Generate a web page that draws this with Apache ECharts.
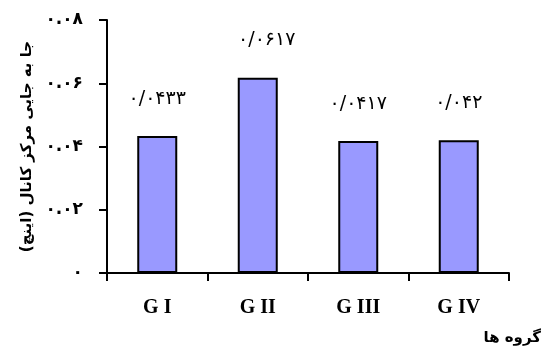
<!DOCTYPE html>
<html><head><meta charset="utf-8">
<script src="https://cdn.jsdelivr.net/npm/echarts@6/dist/echarts.min.js"></script>
<style>html,body{margin:0;padding:0;background:#fff}#c{width:544px;height:351px}</style>
</head><body><div id="c"></div>
<script>
const categories = ['G I', 'G II', 'G III', 'G IV'];
const values = [0.0433, 0.0617, 0.0417, 0.042];
const yTicks = [0, 0.02, 0.04, 0.06, 0.08];
const yTitle = 'جا به جایی مرکز کانال (اینچ)';
const xTitle = 'گروه ها';

const fa = s => String(s).replace(/[0-9]/g, d => '۰۱۲۳۴۵۶۷۸۹'[d]);
const persianFont = '"DejaVu Sans", "Noto Sans", sans-serif';

const chart = echarts.init(document.getElementById('c'));
chart.setOption({
  animation: false,
  grid: { left: 107, right: 35, top: 20, bottom: 78 },
  xAxis: {
    type: 'category', data: categories,
    axisLine: { lineStyle: { color: '#000', width: 2 } },
    axisTick: { show: true, alignWithLabel: false, length: 8, lineStyle: { color: '#000', width: 2 } },
    axisLabel: { color: '#000', fontFamily: '"Liberation Serif", serif', fontWeight: 'bold', fontSize: 20, margin: 25 }
  },
  yAxis: {
    type: 'value', min: yTicks[0], max: yTicks[yTicks.length - 1], interval: 0.02,
    name: yTitle, nameLocation: 'middle', nameRotate: 90, nameGap: 72,
    nameTextStyle: { color: '#000', fontFamily: persianFont, fontWeight: 'bold', fontSize: 15 },
    axisLine: { show: true, lineStyle: { color: '#000', width: 2 } },
    axisTick: { show: true, length: 8, lineStyle: { color: '#000', width: 2 } },
    splitLine: { show: false },
    axisLabel: {
      color: '#000', fontFamily: persianFont, fontWeight: 'bold', fontSize: 17, margin: 24,
      formatter: v => v === 0 ? fa(0) : fa(v.toFixed(2))
    }
  },
  series: [{
    type: 'bar',
    data: values.map((v, i) => i === 1 ? { value: v, label: { offset: [9, 0] } } : v),
    barWidth: 40,
    itemStyle: { color: '#9999ff', borderColor: '#000', borderWidth: 2 },
    label: {
      show: true, position: 'top', distance: 28, color: '#000',
      fontFamily: persianFont, fontSize: 19,
      formatter: p => fa(String(p.value).replace('.', '/'))
    }
  }],
  graphic: [{
    type: 'text', right: 3, top: 331,
    style: { text: xTitle, fill: '#000', font: 'bold 15px ' + persianFont }
  }]
});
</script></body></html>
